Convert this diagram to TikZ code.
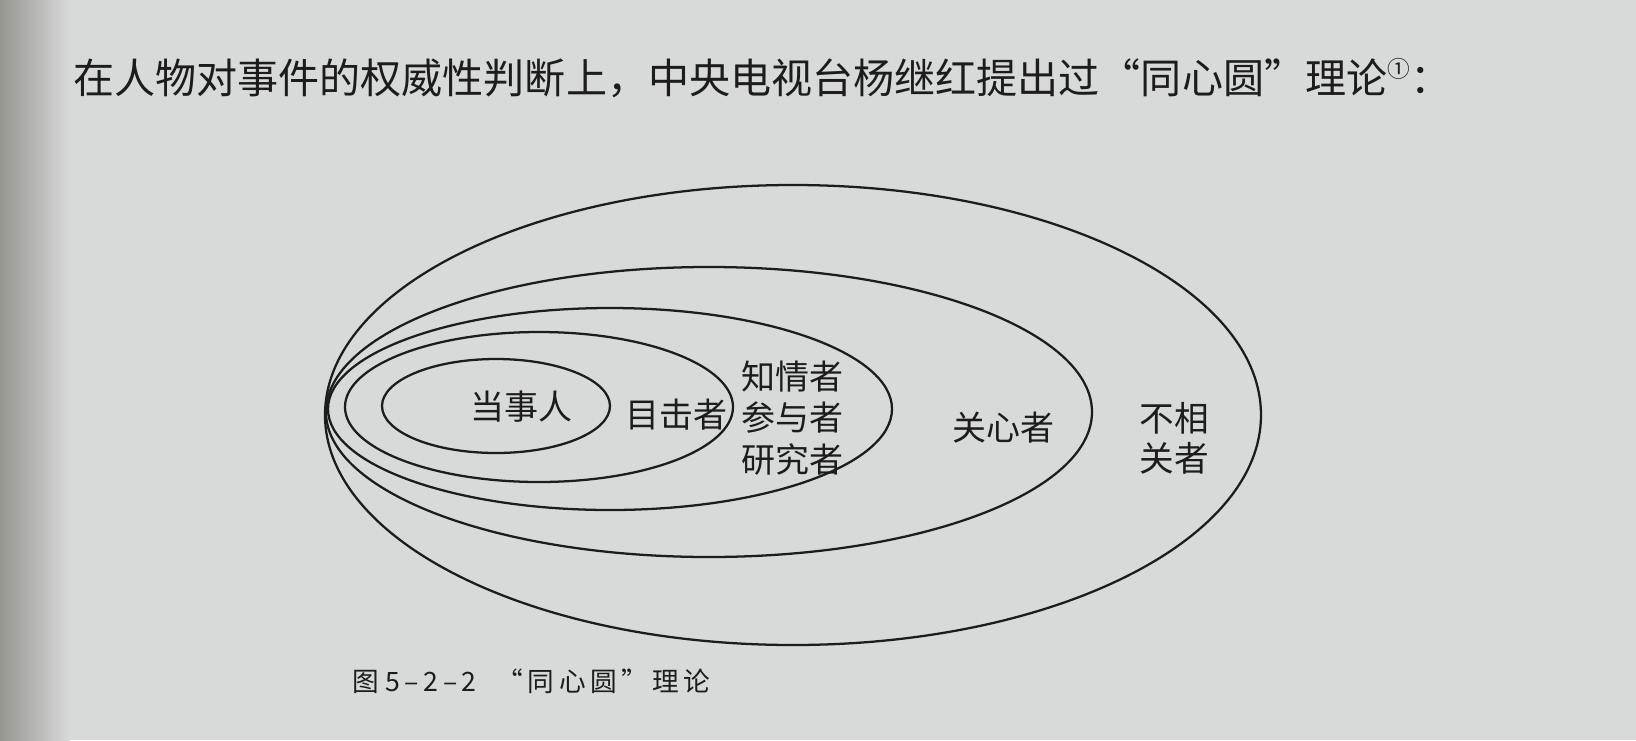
\documentclass[tikz,border=0pt]{standalone}
\usepackage{fontspec}
\setmainfont{Noto Sans CJK SC}
\newfontfamily\capfont[LetterSpace=17]{Noto Sans CJK SC}
\usetikzlibrary{positioning}
\definecolor{paper}{RGB}{216,218,218}
\definecolor{binding}{RGB}{150,150,142}
\definecolor{ink}{RGB}{28,28,28}

\begin{document}
\begin{tikzpicture}
		[x=0.75pt, y=-0.75pt,
		every node/.style={inner sep=0pt, text=ink},
		ring/.style={draw=ink, line width=1.7pt},
		role/.style={font=\fontsize{25.5}{31}\selectfont, align=center}]
		\useasboundingbox (0,0) rectangle (1636,740);
		\fill[paper] (0,0) rectangle (1636,740);
		\shade[left color=binding, right color=paper] (0,0) rectangle (70,740);
		
		\node[anchor=west, font=\fontsize{30.8}{36}\selectfont] (lead) at (73,78) {在人物对事件的权威性判断上，中央电视台杨继红提出过“同心圆”理论\raisebox{0.4em}{\fontsize{17}{17}\selectfont ①}：};
		
		% rings, all nearly touching at the left
		\draw[ring] (793,415) ellipse [x radius=468, y radius=230];
		\draw[ring] (709,412) ellipse [x radius=383, y radius=145];
		\draw[ring] (610,409) ellipse [x radius=282, y radius=101];
		\draw[ring] (539,407) ellipse [x radius=194, y radius=75];
		\draw[ring] (496,406) ellipse [x radius=114, y radius=47];
		
		\node[role] (dangshi) at (521,407) {当事人};
		\node[role] (muji) at (676,415) {目击者};
		\node[role] (zhiqing) at (792,418) {知情者\\参与者\\研究者};
		\node[role] (guanxin) at (1003,428) {关心者};
		\node[role, font=\fontsize{26}{30}\selectfont] (buxiang) at (1174,438) {不相\\关者};
		
		\node[anchor=west, font=\capfont\fontsize{20}{22}\selectfont] (caption) at (352,681) {图\hspace{5pt}5–2–2\hspace{15pt}“同心圆”理论};
		\end{tikzpicture}
\end{document}
